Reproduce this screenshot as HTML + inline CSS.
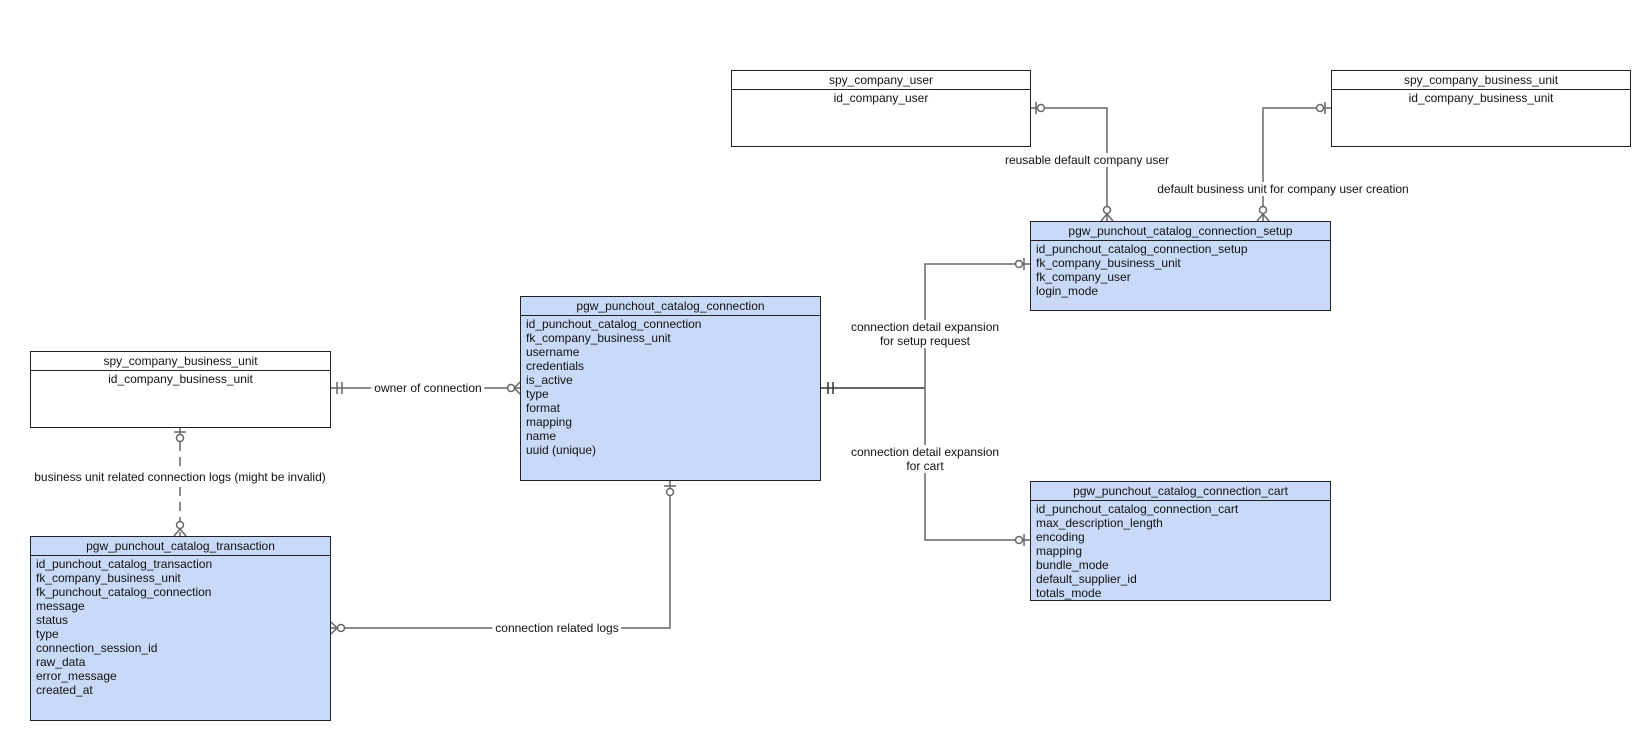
<!DOCTYPE html>
<html><head><meta charset="utf-8"><style>
body{margin:0;width:1652px;height:740px;background:#fff;position:relative;overflow:hidden;font-family:"Liberation Sans",Arial,sans-serif;font-size:12px;color:#111}
.b{position:absolute;border:1px solid #222;box-sizing:border-box;background:#fff}
.b.c{background:#c8daf7}
.h{height:18px;line-height:18px;text-align:center;border-bottom:1px solid #222}
.r{padding:1px 0 0 5px;line-height:14px}
.r.ctr{text-align:center;padding-left:0}
.l{position:absolute;background:#fff;text-align:center;line-height:14px;white-space:nowrap;transform:translate(-50%,-50%)}
svg{position:absolute;left:0;top:0}
</style></head><body>
<svg width="1652" height="740" stroke="#666" stroke-width="1.5" fill="none">
<!-- owner -->
<line x1="331" y1="388" x2="520" y2="388"/>
<line x1="337" y1="382" x2="337" y2="394"/><line x1="342" y1="382" x2="342" y2="394"/>
<circle cx="511" cy="388" r="3.5" fill="#fff"/>
<line x1="520" y1="382" x2="514" y2="388"/><line x1="520" y1="394" x2="514" y2="388"/>
<!-- dashed -->
<line x1="180" y1="427" x2="180" y2="536" stroke-dasharray="9,6"/>
<line x1="174" y1="432" x2="186" y2="432"/>
<circle cx="180" cy="438" r="3.5" fill="#fff"/>
<circle cx="180" cy="525" r="3.5" fill="#fff"/>
<line x1="174" y1="536" x2="180" y2="529"/><line x1="186" y1="536" x2="180" y2="529"/>
<!-- logs -->
<polyline points="331,628 670,628 670,481"/>
<circle cx="341" cy="628" r="3.5" fill="#fff"/>
<line x1="331" y1="622" x2="337" y2="628"/><line x1="331" y1="634" x2="337" y2="628"/>
<line x1="664" y1="486" x2="676" y2="486"/>
<circle cx="670" cy="492" r="3.5" fill="#fff"/>
<!-- connection to setup/cart -->
<line x1="821" y1="388" x2="925" y2="388" stroke="#333"/>
<line x1="828" y1="382" x2="828" y2="394" stroke="#333"/><line x1="833" y1="382" x2="833" y2="394" stroke="#333"/>
<polyline points="1030,264 925,264 925,540 1030,540"/>
<line x1="1024" y1="258" x2="1024" y2="270"/><circle cx="1019" cy="264" r="3.5" fill="#fff"/>
<line x1="1024" y1="534" x2="1024" y2="546"/><circle cx="1019" cy="540" r="3.5" fill="#fff"/>
<!-- company user -->
<polyline points="1030,108 1107,108 1107,221"/>
<line x1="1036" y1="102" x2="1036" y2="114"/><circle cx="1041" cy="108" r="3.5" fill="#fff"/>
<circle cx="1107" cy="210" r="3.5" fill="#fff"/>
<line x1="1101" y1="221" x2="1107" y2="214"/><line x1="1113" y1="221" x2="1107" y2="214"/>
<!-- cbu top -->
<polyline points="1331,108 1263,108 1263,221"/>
<line x1="1325" y1="102" x2="1325" y2="114"/><circle cx="1320" cy="108" r="3.5" fill="#fff"/>
<circle cx="1263" cy="210" r="3.5" fill="#fff"/>
<line x1="1257" y1="221" x2="1263" y2="214"/><line x1="1269" y1="221" x2="1263" y2="214"/>
</svg>

<div class="b" style="left:731px;top:70px;width:300px;height:77px"><div class="h">spy_company_user</div><div class="r ctr">id_company_user</div></div>
<div class="b" style="left:1331px;top:70px;width:300px;height:77px"><div class="h">spy_company_business_unit</div><div class="r ctr">id_company_business_unit</div></div>
<div class="b c" style="left:1030px;top:221px;width:301px;height:90px"><div class="h">pgw_punchout_catalog_connection_setup</div><div class="r">id_punchout_catalog_connection_setup<br>fk_company_business_unit<br>fk_company_user<br>login_mode</div></div>
<div class="b c" style="left:520px;top:296px;width:301px;height:185px"><div class="h">pgw_punchout_catalog_connection</div><div class="r">id_punchout_catalog_connection<br>fk_company_business_unit<br>username<br>credentials<br>is_active<br>type<br>format<br>mapping<br>name<br>uuid (unique)</div></div>
<div class="b c" style="left:1030px;top:481px;width:301px;height:120px"><div class="h">pgw_punchout_catalog_connection_cart</div><div class="r">id_punchout_catalog_connection_cart<br>max_description_length<br>encoding<br>mapping<br>bundle_mode<br>default_supplier_id<br>totals_mode</div></div>
<div class="b" style="left:30px;top:351px;width:301px;height:77px"><div class="h">spy_company_business_unit</div><div class="r ctr">id_company_business_unit</div></div>
<div class="b c" style="left:30px;top:536px;width:301px;height:185px"><div class="h">pgw_punchout_catalog_transaction</div><div class="r">id_punchout_catalog_transaction<br>fk_company_business_unit<br>fk_punchout_catalog_connection<br>message<br>status<br>type<br>connection_session_id<br>raw_data<br>error_message<br>created_at</div></div>

<div class="l" style="left:428px;top:388px;padding:0 3px">owner of connection</div>
<div class="l" style="left:180px;top:477px">business unit related connection logs (might be invalid)</div>
<div class="l" style="left:557px;top:628px;padding:0 3px">connection related logs</div>
<div class="l" style="left:925px;top:334px">connection detail expansion<br>for setup request</div>
<div class="l" style="left:925px;top:459px">connection detail expansion<br>for cart</div>
<div class="l" style="left:1087px;top:160px">reusable default company user</div>
<div class="l" style="left:1283px;top:189px">default business unit for company user creation</div>
</body></html>
